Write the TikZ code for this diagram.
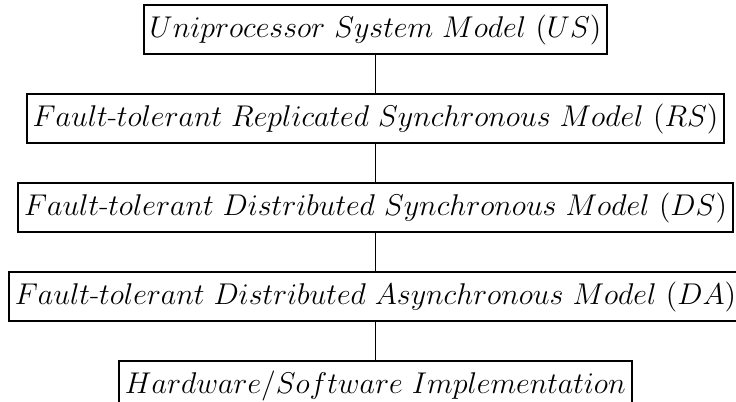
\RequirePackage{fix-cm}
\documentclass[tikz,border=0pt]{standalone}
\usetikzlibrary{positioning}

\begin{document}
\begin{tikzpicture}[node distance=19pt,
          model/.style={draw, line width=1pt, minimum height=24.5pt, inner xsep=3pt, font=\fontsize{15}{18}\selectfont},
          link/.style={line width=0.5pt}]
        \useasboundingbox (0,0) rectangle (368pt,-201pt);
        \node[model] (us) at (187.75pt,-14.75pt) {$Uniprocessor\ System\ Model\ (US)$};
        \node[model, below=of us] (rs) {$Fault\mbox{-}tolerant\ Replicated\ Synchronous\ Model\ (RS)$};
        \node[model, below=of rs] (ds) {$Fault\mbox{-}tolerant\ Distributed\ Synchronous\ Model\ (DS)$};
        \node[model, below=of ds] (da) {$Fault\mbox{-}tolerant\ Distributed\ Asynchronous\ Model\ (DA)$};
        \node[model, below=of da] (hw) {$Hardware/Software\ Implementation$};
        \foreach \a/\b in {us/rs, rs/ds, ds/da, da/hw} {
          \draw[link] (\a) -- (\b);
        }
      \end{tikzpicture}
\end{document}
